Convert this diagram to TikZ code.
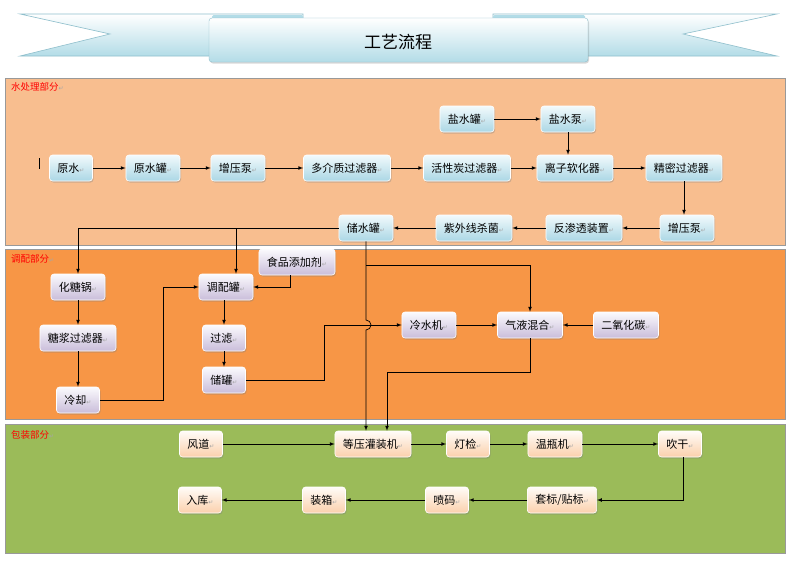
\documentclass[tikz,border=0pt]{standalone}
\usepackage{fontspec}
\setmainfont{Noto Sans CJK SC}
\newfontfamily\symfont{DejaVu Sans}
\usetikzlibrary{shadows}

\definecolor{waterbg}{HTML}{F8BE8F}
\definecolor{mixbg}{HTML}{F79646}
\definecolor{packbg}{HTML}{9BBB59}
\definecolor{bluetop}{HTML}{F2FAFC}
\definecolor{bluebot}{HTML}{ABD7E5}
\definecolor{lavtop}{HTML}{FBFAFD}
\definecolor{lavbot}{HTML}{C9BDDA}
\definecolor{peachtop}{HTML}{FFFCF8}
\definecolor{peachbot}{HTML}{FBD0AC}
\definecolor{ribbonin}{HTML}{B3DCE7}
\definecolor{ribbonedge}{HTML}{8FBFCC}

\newcommand{\retmark}{{\symfont\fontsize{6}{6}\selectfont\color{gray!70}↵}}

\tikzset{
  stepnode/.style={rounded corners=3pt, minimum height=26pt, inner xsep=8pt,
    font=\fontsize{11}{12}\selectfont, draw=white, line width=0.6pt,
    drop shadow={opacity=0.35, shadow xshift=1pt, shadow yshift=-1.5pt}},
  bluebox/.style={stepnode, top color=bluetop, bottom color=bluebot},
  lavbox/.style={stepnode, top color=lavtop, bottom color=lavbot},
  peachbox/.style={stepnode, top color=peachtop, bottom color=peachbot},
  partlabel/.style={anchor=north west, inner sep=0pt, text=red, font=\fontsize{9.5}{10}\selectfont},
  flow/.style={->, >=latex, line width=0.7pt}
}

\begin{document}
\begin{tikzpicture}[x=1pt,y=-1pt]
    \useasboundingbox (0,0) rectangle (797,565);
    \fill [white] (0,0) rectangle (797,565);

    % title banner
    \shade [top color=white, bottom color=ribbonin, draw=ribbonedge, line width=0.6pt]
      (20,14) -- (303,14) -- (303,56) -- (20,56) -- (110,34) -- cycle;
    \shade [top color=white, bottom color=ribbonin, draw=ribbonedge, line width=0.6pt]
      (493,14) -- (777,14) -- (683,34) -- (777,56) -- (493,56) -- cycle;
    \fill [ribbonin, rounded corners=1.5pt] (212,15) rectangle (303,19);
    \fill [ribbonin, rounded corners=1.5pt] (493,15) rectangle (585,19);
    \shade [top color=white, bottom color=ribbonin, draw=ribbonedge, rounded corners=3pt,
      drop shadow={opacity=0.3, shadow xshift=1pt, shadow yshift=-1.5pt}]
      (209,18) rectangle (588,62);
    \node (title) at (398,42) {\fontsize{17}{18}\selectfont 工艺流程};

    % three parts
    \filldraw [fill=waterbg, draw=gray!80] (5,78) rectangle (785,245);
    \filldraw [fill=mixbg, draw=gray!80] (5,249) rectangle (785,419);
    \filldraw [fill=packbg, draw=gray!80] (5,424) rectangle (785,553);
    \node [partlabel] (p1) at (11,82) {水处理部分\retmark};
    \node [partlabel] (p2) at (11,254) {调配部分\retmark};
    \node [partlabel] (p3) at (11,430) {包装部分\retmark};
    \draw [line width=1pt] (39,158) -- (39,169);

    % water treatment
    \node [bluebox] (ysg) at (467,119) {盐水罐\retmark};
    \node [bluebox] (ysb) at (568,119) {盐水泵\retmark};
    \node [bluebox] (ys) at (71,168) {原水\retmark};
    \node [bluebox] (ysg2) at (153,168) {原水罐\retmark};
    \node [bluebox] (zyb) at (238,168) {增压泵\retmark};
    \node [bluebox] (djz) at (347,168) {多介质过滤器\retmark};
    \node [bluebox] (hxt) at (467,168) {活性炭过滤器\retmark};
    \node [bluebox] (lzrh) at (575,168) {离子软化器\retmark};
    \node [bluebox] (jmgl) at (684,168) {精密过滤器\retmark};
    \node [bluebox] (zyb2) at (687,228) {增压泵\retmark};
    \node [bluebox] (fst) at (584,228) {反渗透装置\retmark};
    \node [bluebox] (zwx) at (474,228) {紫外线杀菌\retmark};
    \node [bluebox] (csg) at (366,228) {储水罐\retmark};

    \draw [flow] (ys) -- (ysg2);
    \draw [flow] (ysg2) -- (zyb);
    \draw [flow] (zyb) -- (djz);
    \draw [flow] (djz) -- (hxt);
    \draw [flow] (hxt) -- (lzrh);
    \draw [flow] (lzrh) -- (jmgl);
    \draw [flow] (ysg) -- (ysb);
    \draw [flow] (ysb) -- (ysb |- lzrh.north);
    \draw [flow] (jmgl) -- (jmgl |- zyb2.north);
    \draw [flow] (zyb2) -- (fst);
    \draw [flow] (fst) -- (zwx);
    \draw [flow] (zwx) -- (csg);

    % mixing
    \node [lavbox] (htg) at (78,287) {化糖锅\retmark};
    \node [lavbox] (tjgl) at (78,338) {糖浆过滤器\retmark};
    \node [lavbox] (lq) at (78,400) {冷却\retmark};
    \node [lavbox] (sptj) at (297,262) {食品添加剂\retmark};
    \node [lavbox] (tpg) at (226,287) {调配罐\retmark};
    \node [lavbox] (gl) at (224,338) {过滤\retmark};
    \node [lavbox] (cg) at (224,380) {储罐\retmark};
    \node [lavbox] (lsj) at (429,325) {冷水机\retmark};
    \node [lavbox] (qyhh) at (530,325) {气液混合\retmark};
    \node [lavbox] (eyht) at (626,325) {二氧化碳\retmark};

    \draw [flow] (csg.west) -| (htg.north);
    \draw [flow] ([xshift=10pt]tpg.north |- csg.west) -- ([xshift=10pt]tpg.north);
    \draw [flow] (htg) -- (tjgl);
    \draw [flow] (tjgl) -- (lq);
    \draw [flow] (lq.east) -- ++(64,0) |- (tpg.west);
    \draw [flow] ([xshift=-7pt]sptj.south) |- (tpg.east);
    \draw [flow] (tpg.south -| gl.north) -- (gl.north);
    \draw [flow] (gl) -- (cg);
    \draw [flow] (cg.east) -- ++(79,0) |- (lsj.west);
    \draw [flow] (lsj) -- (qyhh);
    \draw [flow] (eyht) -- (qyhh);

    % packing
    \node [peachbox] (fd) at (201,444) {风道\retmark};
    \node [peachbox] (dygz) at (373,444) {等压灌装机\retmark};
    \node [peachbox] (djn) at (468,444) {灯检\retmark};
    \node [peachbox] (wpj) at (555,444) {温瓶机\retmark};
    \node [peachbox] (cgan) at (680,444) {吹干\retmark};
    \node [peachbox] (rk) at (200,500) {入库\retmark};
    \node [peachbox] (zx) at (324,500) {装箱\retmark};
    \node [peachbox] (pm) at (447,500) {喷码\retmark};
    \node [peachbox] (tb) at (562,500) {套标/贴标\retmark};

    % storage tank down to filler, hopping over the chiller line
    \coordinate (hop) at (366,320);
    \coordinate (fork) at (366,265);
    \draw [flow] (csg.south) -- (hop) arc [start angle=-90, end angle=90, radius=5]
      -- ([xshift=-7pt]dygz.north);
    \draw [flow] (fork) -| (qyhh.north);
    \draw [flow] (qyhh.south) -- ++(0,34) -| ([xshift=14pt]dygz.north);

    \draw [flow] (fd) -- (dygz);
    \draw [flow] (dygz) -- (djn);
    \draw [flow] (djn) -- (wpj);
    \draw [flow] (wpj) -- (cgan);
    \draw [flow] ([xshift=3pt]cgan.south) |- (tb.east);
    \draw [flow] (tb) -- (pm);
    \draw [flow] (pm) -- (zx);
    \draw [flow] (zx) -- (rk);
  \end{tikzpicture}
\end{document}
